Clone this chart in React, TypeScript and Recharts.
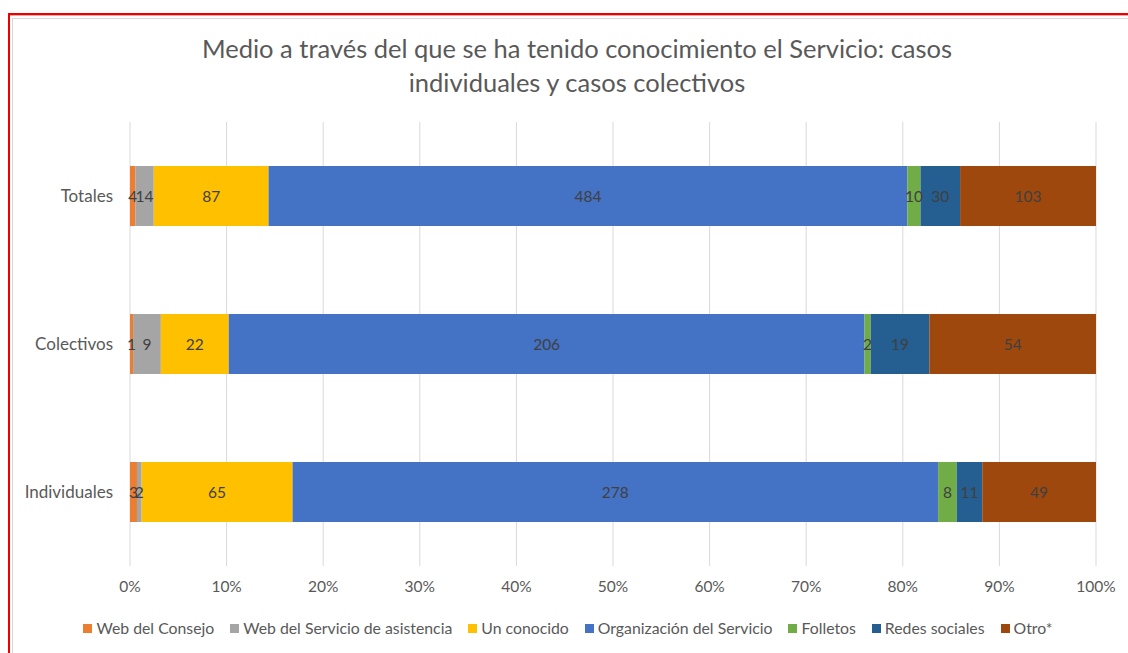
import React from 'react';
import {
  BarChart, Bar, XAxis, YAxis, CartesianGrid, Legend, LabelList,
} from 'recharts';

const categories = ['Totales', 'Colectivos', 'Individuales'];

const webConsejo = [4, 1, 3];
const webServicio = [14, 9, 2];
const unConocido = [87, 22, 65];
const organizacion = [484, 206, 278];
const folletos = [10, 2, 8];
const redesSociales = [30, 19, 11];
const otro = [103, 54, 49];

const pctTicks = [0, 0.1, 0.2, 0.3, 0.4, 0.5, 0.6, 0.7, 0.8, 0.9, 1];

const series = [
  { key: 'webConsejo', name: 'Web del Consejo', values: webConsejo, color: '#ED7D31' },
  { key: 'webServicio', name: 'Web del Servicio de asistencia', values: webServicio, color: '#A5A5A5' },
  { key: 'unConocido', name: 'Un conocido', values: unConocido, color: '#FFC000' },
  { key: 'organizacion', name: 'Organización del Servicio', values: organizacion, color: '#4472C4' },
  { key: 'folletos', name: 'Folletos', values: folletos, color: '#70AD47' },
  { key: 'redes', name: 'Redes sociales', values: redesSociales, color: '#255E91' },
  { key: 'otro', name: 'Otro*', values: otro, color: '#9E480E' },
];

const data = categories.map((cat, i) => {
  const row: Record<string, string | number> = { cat };
  series.forEach(s => { row[s.key] = s.values[i]; });
  return row;
});

const FONT = 'Lato, "Open Sans", sans-serif';

// legend drawn in series order (recharts sorts its payload by name otherwise)
const renderLegend = () => (
  <div style={{ display: 'flex', justifyContent: 'center', gap: 16, fontSize: 15.8, color: '#595959', fontFamily: FONT, lineHeight: '24px', paddingLeft: 30 }}>
    {series.map(s => (
      <span key={s.key} style={{ display: 'inline-flex', alignItems: 'center' }}>
        <span style={{ width: 9, height: 9, background: s.color, display: 'inline-block', marginRight: 4 }} />
        {s.name}
      </span>
    ))}
  </div>
);

export default function App() {
  return (
    <div style={{ position: 'absolute', left: 0, top: 0, width: 1128, height: 653, background: '#fff', overflow: 'hidden', fontFamily: FONT }}>
      {/* frame borders */}
      <div style={{ position: 'absolute', left: 8, top: 13, width: 1200, height: 700, borderLeft: '2px solid #e00', borderTop: '2px solid #e00' }} />
      <div style={{ position: 'absolute', left: 10, top: 15, width: 1200, height: 700, borderTop: '1px solid #f7a8a8' }} />
      <div style={{ position: 'absolute', left: 12, top: 18, width: 1200, height: 700, borderLeft: '1px solid #d9d9d9', borderTop: '1px solid #d9d9d9' }} />

      <div style={{ position: 'absolute', left: 127, width: 900, top: 31, textAlign: 'center', fontSize: 25.5, lineHeight: '34px', color: '#595959' }}>
        Medio a través del que se ha tenido conocimiento el Servicio: casos<br />
        individuales y casos colectivos
      </div>

      <div style={{ position: 'absolute', left: 0, top: 0 }}>
        <BarChart
          width={1128}
          height={653}
          data={data}
          layout="vertical"
          stackOffset="expand"
          margin={{ top: 122, right: 32, bottom: 13, left: 10 }}
        >
          <CartesianGrid horizontal={false} stroke="#d9d9d9" />
          <XAxis
            type="number"
            domain={[0, 1]}
            ticks={pctTicks}
            tickFormatter={(v: number) => `${Math.round(v * 100)}%`}
            axisLine={false}
            tickLine={false}
            tickSize={8}
            tickMargin={7}
            height={50}
            tick={{ fontSize: 15.5, fill: '#595959', fontFamily: FONT }}
            interval={0}
          />
          <YAxis
            type="category"
            dataKey="cat"
            width={120}
            axisLine={false}
            tickLine={false}
            tickSize={0}
            tickMargin={17}
            tick={{ fontSize: 17, fill: '#595959', fontFamily: FONT }}
          />
          <Legend verticalAlign="bottom" content={renderLegend} />
          {series.map(s => (
            <Bar key={s.key} dataKey={s.key} name={s.name} stackId="a" fill={s.color} barSize={60} isAnimationActive={false}>
              <LabelList
                dataKey={s.key}
                content={(p: any) => {
                  const { x, y, width, height, index } = p;
                  return (
                    <text
                      x={Number(x) + Number(width) / 2}
                      y={Number(y) + Number(height) / 2}
                      textAnchor="middle"
                      dominantBaseline="central"
                      fontSize={15.5}
                      fill="#404040"
                      fontFamily={FONT}
                    >
                      {s.values[index]}
                    </text>
                  );
                }}
              />
            </Bar>
          ))}
        </BarChart>
      </div>
    </div>
  );
}
